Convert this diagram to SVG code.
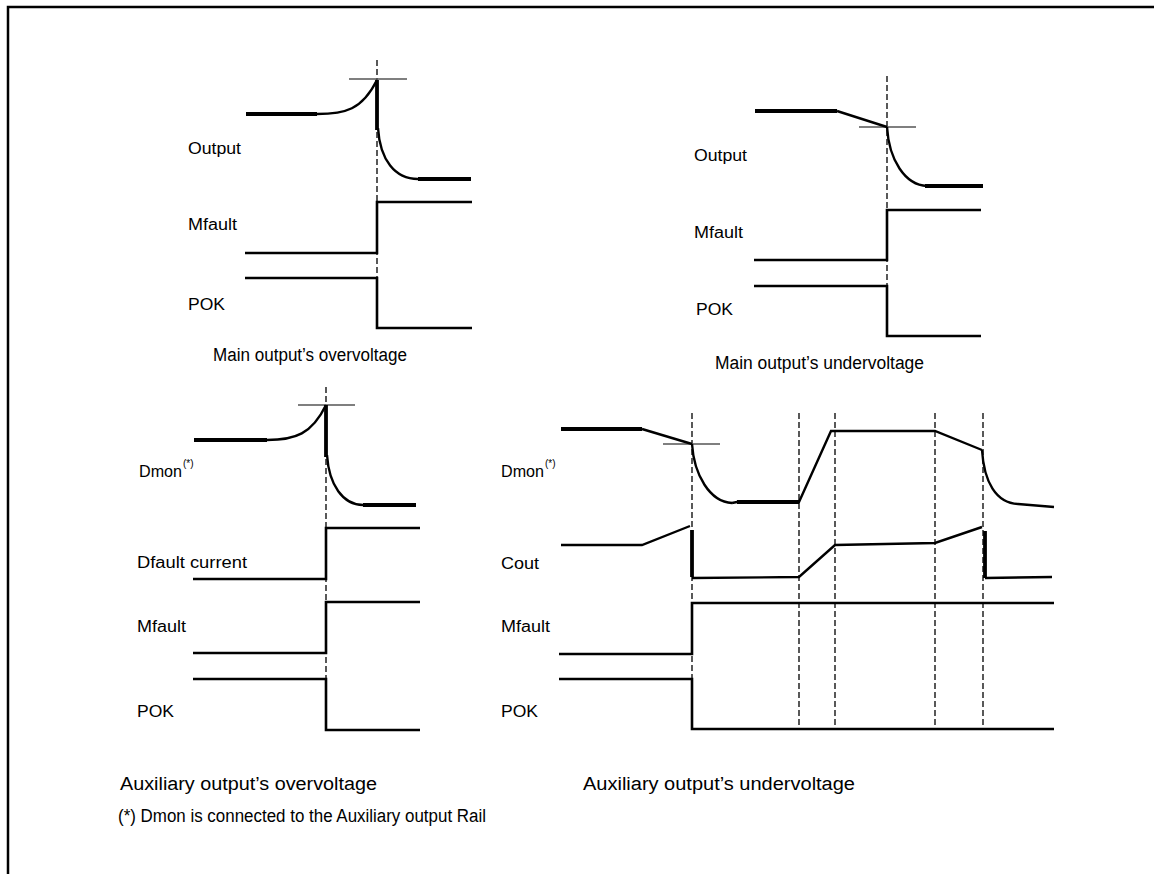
<svg xmlns="http://www.w3.org/2000/svg" width="1154" height="874" viewBox="0 0 1154 874">
<style>
text{font-family:"Liberation Sans",Arial,sans-serif;fill:#000}
.lbl{font-size:16px}
.cap{font-size:18px}
.sup{font-size:10px}
.sig{fill:none;stroke:#000;stroke-width:2.6;stroke-linejoin:miter}
.thk{fill:none;stroke:#000;stroke-width:3.8}
.crv{fill:none;stroke:#000;stroke-width:2.4}
.dash{fill:none;stroke:#000;stroke-width:1.3;stroke-dasharray:6,3}
.mk{fill:none;stroke:#555;stroke-width:1.3}
.frame{fill:none;stroke:#000;stroke-width:2.5}
</style>
<path class="frame" d="M8,874 V7 H1154"/>

<g id="main-overvoltage">
<line class="dash" x1="377" y1="60" x2="377" y2="278"/>
<line class="mk" x1="349" y1="79" x2="407" y2="79"/>
<line class="thk" x1="246" y1="114" x2="317" y2="114"/>
<path class="crv" d="M317,114 C345,114 362,110 377,80"/>
<line class="thk" x1="377" y1="80" x2="377" y2="130"/>
<path class="crv" d="M378,128 C380,160 395,179 418,179"/>
<line class="thk" x1="418" y1="179" x2="471" y2="179"/>
<path class="sig" d="M245,253 H377 V202 H472"/>
<path class="sig" d="M245,278 H377 V328 H472"/>
<text class="lbl" x="188" y="154" textLength="53" lengthAdjust="spacingAndGlyphs">Output</text>
<text class="lbl" x="188" y="230" textLength="49" lengthAdjust="spacingAndGlyphs">Mfault</text>
<text class="lbl" x="188" y="310" textLength="37" lengthAdjust="spacingAndGlyphs">POK</text>
<text class="cap" x="213" y="361" textLength="194" lengthAdjust="spacingAndGlyphs">Main output’s overvoltage</text>
</g>

<g id="main-undervoltage">
<line class="dash" x1="887" y1="76" x2="887" y2="287"/>
<line class="mk" x1="859" y1="127" x2="916" y2="127"/>
<line class="thk" x1="755" y1="111" x2="837" y2="111"/>
<line class="crv" x1="837" y1="111" x2="887" y2="127"/>
<path class="crv" d="M887,127 C889,160 905,185 927,186"/>
<line class="thk" x1="925" y1="186" x2="983" y2="186"/>
<path class="sig" d="M754,260 H887 V210 H981"/>
<path class="sig" d="M754,286 H887 V336 H981"/>
<text class="lbl" x="694" y="161" textLength="53" lengthAdjust="spacingAndGlyphs">Output</text>
<text class="lbl" x="694" y="238" textLength="49" lengthAdjust="spacingAndGlyphs">Mfault</text>
<text class="lbl" x="696" y="315" textLength="37" lengthAdjust="spacingAndGlyphs">POK</text>
<text class="cap" x="715" y="369" textLength="209" lengthAdjust="spacingAndGlyphs">Main output’s undervoltage</text>
</g>

<g id="aux-overvoltage">
<line class="dash" x1="326" y1="387" x2="326" y2="728"/>
<line class="mk" x1="298" y1="405" x2="355" y2="405"/>
<line class="thk" x1="194" y1="440" x2="267" y2="440"/>
<path class="crv" d="M267,440 C295,440 312,434 326,405"/>
<line class="thk" x1="326" y1="405" x2="326" y2="457"/>
<path class="crv" d="M327,455 C329,485 343,505 363,505"/>
<line class="thk" x1="363" y1="505" x2="416" y2="505"/>
<path class="sig" d="M193,579 H326 V528 H420"/>
<path class="sig" d="M193,653 H326 V602 H420"/>
<path class="sig" d="M193,679 H326 V730 H420"/>
<text class="lbl" x="139" y="477" textLength="43" lengthAdjust="spacingAndGlyphs">Dmon</text>
<text class="sup" x="183" y="467">(*)</text>
<text class="lbl" x="137" y="568" textLength="110" lengthAdjust="spacingAndGlyphs">Dfault current</text>
<text class="lbl" x="137" y="632" textLength="49" lengthAdjust="spacingAndGlyphs">Mfault</text>
<text class="lbl" x="137" y="717" textLength="37" lengthAdjust="spacingAndGlyphs">POK</text>
<text class="cap" x="120" y="790" textLength="257" lengthAdjust="spacingAndGlyphs">Auxiliary output’s overvoltage</text>
</g>

<g id="aux-undervoltage">
<line class="dash" x1="692" y1="413" x2="692" y2="729"/>
<line class="dash" x1="799" y1="413" x2="799" y2="729"/>
<line class="dash" x1="835" y1="413" x2="835" y2="729"/>
<line class="dash" x1="935" y1="413" x2="935" y2="729"/>
<line class="dash" x1="983" y1="413" x2="983" y2="729"/>
<line class="mk" x1="663" y1="444" x2="720" y2="444"/>
<line class="thk" x1="561" y1="429" x2="642" y2="429"/>
<line class="crv" x1="642" y1="429" x2="692" y2="444"/>
<path class="crv" d="M692,444 C694,475 710,502 732,503"/>
<path class="crv" d="M732,503 L737,502 H799 L831,431 H935 L982,450"/>
<line class="thk" x1="737" y1="502" x2="799" y2="502"/>
<path class="crv" d="M982,450 C984,482 996,503 1018,504 L1054,507"/>
<path class="crv" d="M561,545 H642 L690,526"/>
<line class="thk" x1="692" y1="530" x2="692" y2="577"/>
<path class="crv" d="M692,578 L799,577 L835,545 L935,543 L982,527"/>
<line class="thk" x1="985" y1="531" x2="985" y2="578"/>
<path class="crv" d="M985,578 L1052,577"/>
<path class="sig" d="M559,654 H692 V603 H1054"/>
<path class="sig" d="M559,679 H692 V729 H1054"/>
<text class="lbl" x="501" y="477" textLength="43" lengthAdjust="spacingAndGlyphs">Dmon</text>
<text class="sup" x="545" y="467">(*)</text>
<text class="lbl" x="501" y="569" textLength="38" lengthAdjust="spacingAndGlyphs">Cout</text>
<text class="lbl" x="501" y="632" textLength="49" lengthAdjust="spacingAndGlyphs">Mfault</text>
<text class="lbl" x="501" y="717" textLength="37" lengthAdjust="spacingAndGlyphs">POK</text>
<text class="cap" x="583" y="790" textLength="272" lengthAdjust="spacingAndGlyphs">Auxiliary output’s undervoltage</text>
</g>

<text id="footnote" class="cap" x="118" y="822" textLength="368" lengthAdjust="spacingAndGlyphs">(*) Dmon is connected to the Auxiliary output Rail</text>
</svg>
